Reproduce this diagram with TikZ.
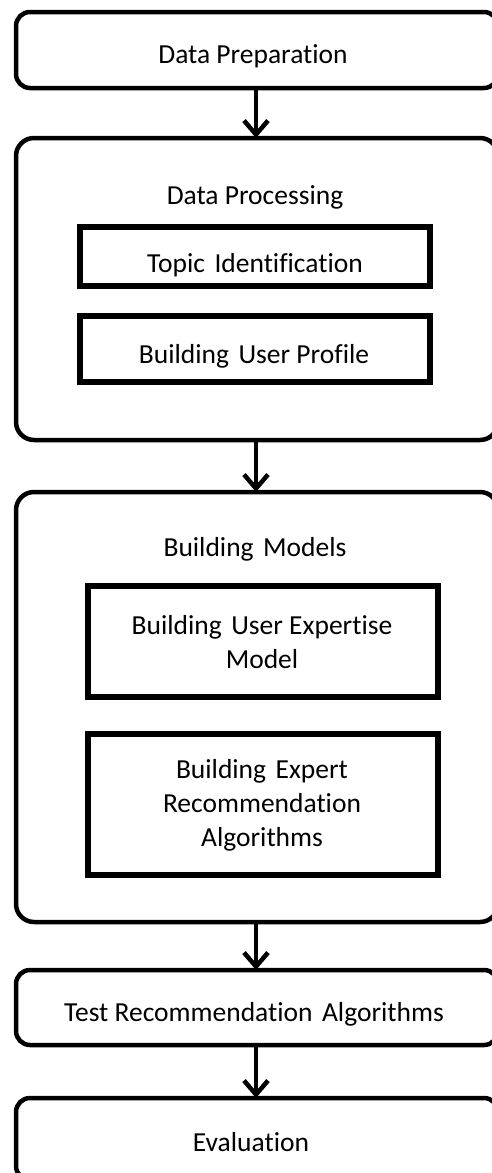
\documentclass[tikz,border=0pt]{standalone}
\usepackage{fontspec}
\setmainfont[Ligatures=NoCommon]{Carlito}
\usetikzlibrary{arrows.meta}
\newcommand{\wsp}{\ \hspace{0.12em}}
\begin{document}
\begin{tikzpicture}[x=1pt,y=-1pt,
  every node/.style={font=\fontsize{27.5}{34}\selectfont, align=center, inner sep=0pt},
  outerbox/.style={draw, line width=4.5pt, rounded corners=14pt},
  innerbox/.style={draw, line width=5.5pt},
  flow/.style={line width=4.5pt, -{Straight Barb[length=14pt,width=24pt,line width=4.5pt]}}]
\useasboundingbox (0,0) rectangle (491,1173);
% outer stages
\draw[outerbox] (16,12) rectangle (498,88);
\draw[outerbox, rounded corners=18pt] (16,138) rectangle (498,440);
\draw[outerbox, rounded corners=18pt] (16,492) rectangle (498,922);
\draw[outerbox] (16,970) rectangle (498,1045);
\draw[outerbox] (16,1098) rectangle (498,1180);
% inner steps
\draw[innerbox] (80,227) rectangle (430,286);
\draw[innerbox] (80,316) rectangle (430,382);
\draw[innerbox] (88,586) rectangle (438,697);
\draw[innerbox] (88,734) rectangle (438,875);
% labels
\node (prep) at (253,56) {Data Preparation};
\node (proc) at (255,197) {Data Processing};
\node (topic) at (255,265) {Topic\wsp Identification};
\node (profile) at (254,356) {Building\wsp User Profile};
\node (models) at (255,549) {Building\wsp Models};
\node (expertise) at (262,642) {Building\wsp User Expertise\\Model};
\node (algos) at (262,805) {Building\wsp Expert\\Recommendation\\Algorithms};
\node (test) at (254,1014) {Test Recommendation\wsp Algorithms};
\node (eval) at (251,1142) {Evaluation};
% stage anchors for connectors
\coordinate (prepB) at (256,88);
\coordinate (procT) at (256,138);
\coordinate (procB) at (256,440);
\coordinate (modelsT) at (256,492);
\coordinate (modelsB) at (256,922);
\coordinate (testT) at (256,970);
\coordinate (testB) at (256,1045);
\coordinate (evalT) at (256,1098);
\draw[flow] (prepB) -- (procT);
\draw[flow] (procB) -- (modelsT);
\draw[flow] (modelsB) -- (testT);
\draw[flow] (testB) -- (evalT);
\end{tikzpicture}
\end{document}
